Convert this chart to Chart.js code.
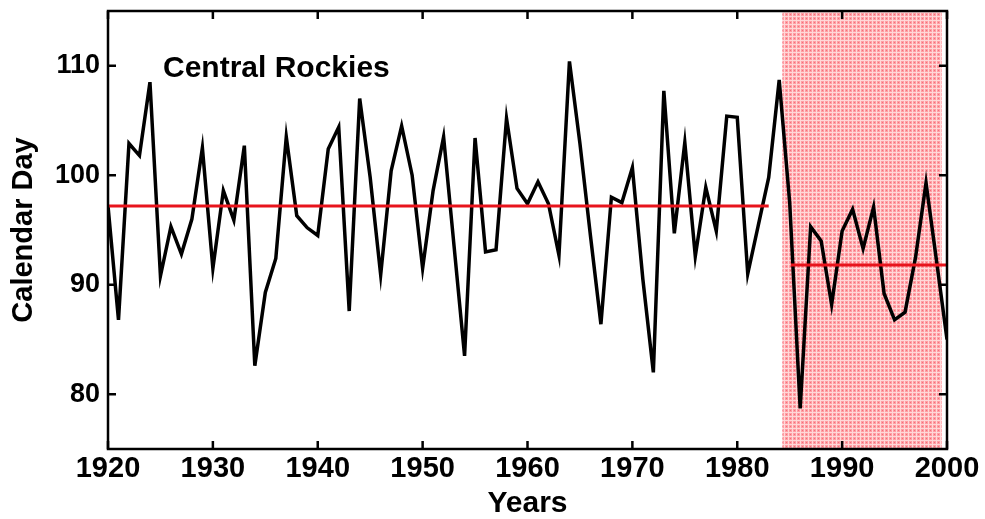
<!DOCTYPE html>
<html>
<head>
<meta charset="utf-8">
<script src="https://cdn.jsdelivr.net/npm/chart.js@4"></script>
<style>
  html, body { margin: 0; padding: 0; background: #fff; }
  #wrap { width: 985px; height: 519px; }
</style>
</head>
<body>
<div id="wrap"><canvas id="chart"></canvas></div>
<script>
const years = [];
for (let y = 1920; y <= 2000; y++) years.push(y);

const calendarDay = [
    97.2, 86.8, 102.9, 101.8, 108.5, 90.8, 95.3, 92.8, 96.0, 102.5,
    91.5, 98.6, 95.9, 102.7, 82.6, 89.3, 92.4, 103.5, 96.3, 95.2,
    94.5, 102.4, 104.4, 87.6, 107.0, 99.8, 90.9, 100.4, 104.5, 100.0,
    91.5, 98.6, 103.5, 93.5, 83.5, 103.4, 93.0, 93.2, 105.2, 98.8,
    97.4, 99.4, 97.4, 92.7, 110.4, 102.9, 94.5, 86.4, 98.0, 97.5,
    100.7, 90.5, 82.0, 107.7, 94.7, 103.0, 92.6, 98.9, 94.9, 105.4,
    105.3, 91.0, 95.4, 99.8, 108.7, 97.5, 78.7, 95.3, 94.0, 88.2,
    94.9, 96.9, 93.3, 97.1, 89.2, 86.8, 87.5, 92.5, 99.3, 92.2,
    85.0
];

// period means
const earlyMeanYears = [1920, 1983];
const earlyMean = 97.2;
const lateMeanYears = [1985.1, 2000];
const lateMean = 91.8;

// shaded period
const shadeYears = [1984.3, 1999.5];

const xTicks = [1920, 1930, 1940, 1950, 1960, 1970, 1980, 1990, 2000];
const yTicks = [80, 90, 100, 110];

const FONT = '"Liberation Sans", Arial, Helvetica, sans-serif';
const NARROW = '"Liberation Sans Narrow", "Arial Narrow", "Liberation Sans", sans-serif';

function makePattern(ctx) {
    const c = document.createElement('canvas');
    c.width = 4;
    c.height = 4;
    const p = c.getContext('2d');
    p.fillStyle = '#ff9ea4';
    p.fillRect(0, 0, 4, 4);
    p.fillStyle = '#ffd8d8';
    p.fillRect(0, 0, 4, 1);
    p.fillRect(0, 0, 1, 4);
    p.fillStyle = '#f2707a';
    p.fillRect(2, 2, 1, 1);
    return ctx.createPattern(c, 'repeat');
}

const shadePlugin = {
    id: 'shade',
    beforeDatasetsDraw(chart) {
        const {ctx, chartArea, scales} = chart;
        const x0 = scales.x.getPixelForValue(shadeYears[0]);
        const x1 = scales.x.getPixelForValue(shadeYears[1]);
        ctx.save();
        ctx.fillStyle = makePattern(ctx);
        ctx.fillRect(x0, chartArea.top, x1 - x0, chartArea.bottom - chartArea.top);
        ctx.restore();
    }
};

const framePlugin = {
    id: 'frame',
    afterDatasetsDraw(chart) {
        const {ctx, chartArea, scales} = chart;
        const {left, right, top, bottom} = chartArea;
        const tl = 8;
        ctx.save();
        ctx.strokeStyle = '#000';
        ctx.lineWidth = 2.5;
        ctx.strokeRect(left, top, right - left, bottom - top);
        ctx.beginPath();
        xTicks.forEach(v => {
            const px = scales.x.getPixelForValue(v);
            ctx.moveTo(px, bottom);
            ctx.lineTo(px, bottom - tl);
            ctx.moveTo(px, top);
            ctx.lineTo(px, top + tl);
        });
        yTicks.forEach(v => {
            const py = scales.y.getPixelForValue(v);
            ctx.moveTo(left, py);
            ctx.lineTo(left + tl, py);
            ctx.moveTo(right, py);
            ctx.lineTo(right - tl, py);
        });
        ctx.stroke();

        ctx.fillStyle = '#000';
        ctx.font = 'bold 30px ' + FONT;
        ctx.textBaseline = 'alphabetic';
        ctx.fillText('Central Rockies', 163, 77);
        ctx.restore();
    }
};

new Chart(document.getElementById('chart'), {
    type: 'line',
    data: {
        datasets: [
            {
                data: [
                    {x: earlyMeanYears[0], y: earlyMean},
                    {x: earlyMeanYears[1], y: earlyMean}
                ],
                borderColor: '#e8141c',
                borderWidth: 3,
                pointRadius: 0,
                order: 0
            },
            {
                data: [
                    {x: lateMeanYears[0], y: lateMean},
                    {x: lateMeanYears[1], y: lateMean}
                ],
                borderColor: '#e8141c',
                borderWidth: 3,
                pointRadius: 0,
                order: 0
            },
            {
                data: years.map((yr, i) => ({x: yr, y: calendarDay[i]})),
                borderColor: '#000',
                borderWidth: 3.5,
                pointRadius: 0,
                tension: 0,
                order: 1
            }
        ]
    },
    options: {
        responsive: true,
        maintainAspectRatio: false,
        animation: false,
        events: [],
        layout: {
            padding: {top: 11, right: 38, left: 0, bottom: 0}
        },
        plugins: {
            legend: {display: false},
            tooltip: {enabled: false}
        },
        scales: {
            x: {
                type: 'linear',
                min: 1920,
                max: 2000,
                afterFit(scale) { scale.height = 70; },
                afterBuildTicks(scale) { scale.ticks = xTicks.map(v => ({value: v})); },
                grid: {display: false, drawTicks: false},
                border: {display: false},
                ticks: {
                    color: '#000',
                    padding: 5,
                    maxRotation: 0,
                    autoSkip: false,
                    callback: v => String(v),
                    font: {family: NARROW, size: 29, weight: 'bold', lineHeight: 1}
                },
                title: {
                    display: true,
                    text: 'Years',
                    color: '#000',
                    padding: {top: 0, bottom: 0},
                    font: {family: FONT, size: 30, weight: 'bold', lineHeight: 1}
                }
            },
            y: {
                min: 75,
                max: 115,
                afterFit(scale) { scale.width = 108; },
                afterBuildTicks(scale) { scale.ticks = yTicks.map(v => ({value: v})); },
                grid: {display: false, drawTicks: false},
                border: {display: false},
                ticks: {
                    color: '#000',
                    padding: 8,
                    font: {family: NARROW, size: 27, weight: 'bold', lineHeight: 0.1}
                },
                title: {
                    display: true,
                    text: 'Calendar Day',
                    color: '#000',
                    padding: {top: 9, bottom: 0},
                    font: {family: FONT, size: 29, weight: 'bold', lineHeight: 1}
                }
            }
        }
    },
    plugins: [shadePlugin, framePlugin]
});
</script>
</body>
</html>
